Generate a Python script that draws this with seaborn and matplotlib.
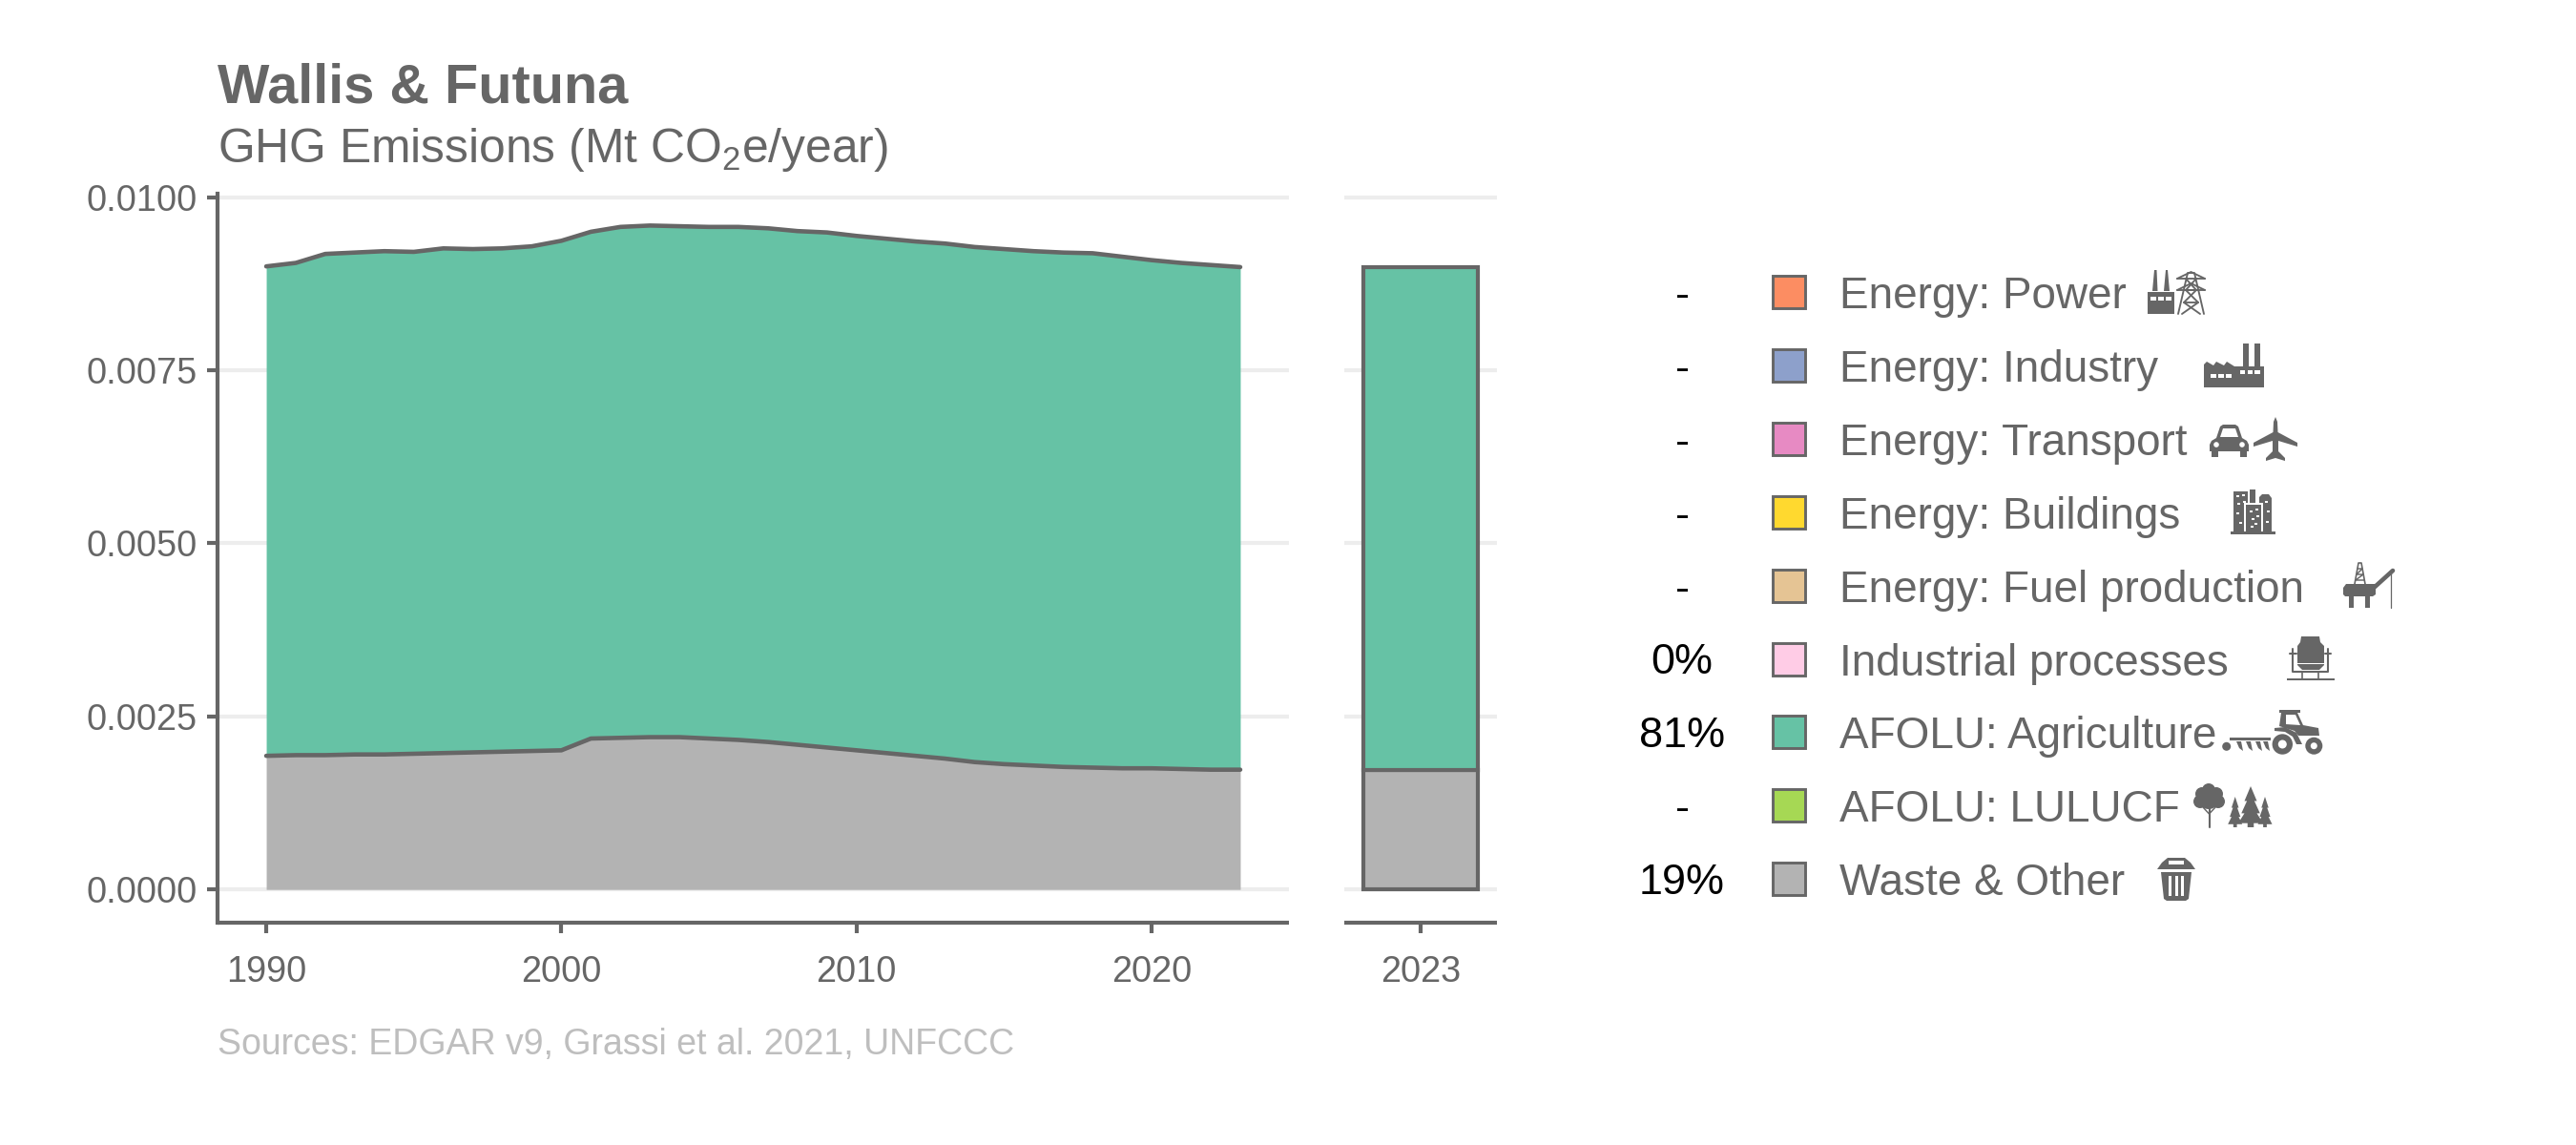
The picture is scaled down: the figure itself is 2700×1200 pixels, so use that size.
import numpy as np
import pandas as pd
import matplotlib
matplotlib.use('Agg')
import matplotlib.pyplot as plt
from matplotlib.patches import Polygon, Rectangle, Circle
import seaborn as sns

# values
years = list(range(1990, 2024))
total = [0.00900, 0.00905, 0.00918, 0.00920, 0.00922, 0.00921, 0.00926, 0.00925, 0.00926, 0.00929,
         0.00937, 0.00950, 0.00957, 0.00959, 0.00958, 0.00957, 0.00957, 0.00955, 0.00951, 0.00949,
         0.00944, 0.00940, 0.00936, 0.00933, 0.00928, 0.00925, 0.00922, 0.00920, 0.00919, 0.00914,
         0.00909, 0.00905, 0.00902, 0.00899]
waste = [0.00193, 0.00194, 0.00194, 0.00195, 0.00195, 0.00196, 0.00197, 0.00198, 0.00199, 0.00200,
         0.00201, 0.00218, 0.00219, 0.00220, 0.00220, 0.00218, 0.00216, 0.00213, 0.00209, 0.00205,
         0.00201, 0.00197, 0.00193, 0.00189, 0.00184, 0.00181, 0.00179, 0.00177, 0.00176, 0.00175,
         0.00175, 0.00174, 0.00173, 0.00173]
bar_year = ['2023']
bar_waste = [0.00173]
bar_agri = [0.00726]

sectors = ['Energy: Power', 'Energy: Industry', 'Energy: Transport', 'Energy: Buildings',
           'Energy: Fuel production', 'Industrial processes', 'AFOLU: Agriculture',
           'AFOLU: LULUCF', 'Waste & Other']
shares = ['-', '-', '-', '-', '-', '0%', '81%', '-', '19%']
sector_colors = ['#FC8D62', '#8DA0CB', '#E78AC3', '#FFD92F', '#E5C494', '#FFCCE6', '#66C2A5', '#A6D854', '#B3B3B3']
y_ticks = [0, 0.0025, 0.005, 0.0075, 0.01]
x_ticks = [1990, 2000, 2010, 2020]

GREY = '#666666'
GRID = '#EDEDED'
GREEN = sector_colors[6]
WASTE = sector_colors[8]
W, H = 2700, 1200

sns.set_theme(style='white')
plt.rcParams['font.family'] = ['Liberation Sans', 'DejaVu Sans']
plt.rcParams['mathtext.default'] = 'regular'

fig = plt.figure(figsize=(9, 4), dpi=300)


def box(left, right, top, bottom):
    return [left / W, 1 - bottom / H, (right - left) / W, (bottom - top) / H]


ax = fig.add_axes(box(228, 1351, 203, 967))
ax2 = fig.add_axes(box(1409, 1569, 203, 967))

# left panel
df = pd.DataFrame({'year': years, 'total': total, 'waste': waste})
ax.fill_between(df['year'], 0, df['waste'], color=WASTE, lw=0, zorder=2)
ax.fill_between(df['year'], df['waste'], df['total'], color=GREEN, lw=0, zorder=2)
sns.lineplot(data=df, x='year', y='total', color=GREY, lw=1.1, estimator=None, ax=ax, zorder=3)
sns.lineplot(data=df, x='year', y='waste', color=GREY, lw=1.1, estimator=None, ax=ax, zorder=3)
ax.set_xlim(1988.35, 2024.65)
ax.set_xticks(x_ticks)

# right panel
sns.barplot(x=bar_year, y=bar_waste, color=WASTE, saturation=1, width=0.9,
            edgecolor=GREY, linewidth=1, ax=ax2, zorder=2)
sns.barplot(x=bar_year, y=bar_agri, bottom=bar_waste, color=GREEN, saturation=1, width=0.9,
            edgecolor=GREY, linewidth=1, ax=ax2, zorder=2)
ax2.set_xlim(-0.6, 0.6)

for a in (ax, ax2):
    a.set_ylim(-0.00048, 0.01005)
    a.set_yticks(y_ticks)
    a.set_xlabel('')
    a.set_ylabel('')
    a.grid(axis='y', color=GRID, lw=1, zorder=0)
    a.grid(axis='x', visible=False)
    a.set_axisbelow(True)
    a.set_facecolor('none')
    for side in ('top', 'right'):
        a.spines[side].set_visible(False)
    a.spines['bottom'].set_color(GREY)
    a.spines['bottom'].set_linewidth(1)
    a.spines['bottom'].set_capstyle('butt')
    a.spines['left'].set_color(GREY)
    a.spines['left'].set_linewidth(1)
    a.tick_params(axis='x', length=2.7, width=1, color=GREY, labelcolor=GREY, labelsize=9.1, pad=5.5, bottom=True)
    a.tick_params(axis='y', length=2.7, width=1, color=GREY, labelcolor=GREY, labelsize=9.1, pad=2.4, left=True)

ax.set_yticklabels(['0.0000', '0.0025', '0.0050', '0.0075', '0.0100'])
ax2.spines['left'].set_visible(False)
ax2.tick_params(axis='y', left=False, labelleft=False)

# overlay in pixels for the titles, the key and its icons
ov = fig.add_axes([0, 0, 1, 1], facecolor='none')
ov.set_xlim(0, W)
ov.set_ylim(H, 0)
ov.axis('off')

ov.text(228, 108, 'Wallis & Futuna', fontsize=13.85, fontweight='bold', color=GREY, va='baseline')
ov.text(228, 170, 'GHG Emissions (Mt CO$_2$e/year)', fontsize=11.95, color=GREY, va='baseline')
ov.text(228, 1105, 'Sources: EDGAR v9, Grassi et al. 2021, UNFCCC', fontsize=9, color='#BEBEBE', va='baseline')

for i, (name, share, col) in enumerate(zip(sectors, shares, sector_colors)):
    yc = 306 + i * 76.9
    ov.add_patch(Rectangle((1858, yc - 17), 34, 34, fc=col, ec=GREY, lw=0.7))
    ov.text(1928, yc, name, fontsize=11, color=GREY, va='center_baseline')
    ov.text(1763, yc, share, fontsize=10.8, color='black', va='center_baseline', ha='center')


def poly(ox, oy, pts, fc=GREY):
    ov.add_patch(Polygon([(ox + x, oy + y) for x, y in pts], closed=True, fc=fc, ec='none'))


def rect(ox, oy, x0, y0, x1, y1, fc=GREY):
    ov.add_patch(Rectangle((ox + x0, oy + y0), x1 - x0, y1 - y0, fc=fc, ec='none'))


def circ(ox, oy, x, y, r, fc=GREY):
    ov.add_patch(Circle((ox + x, oy + y), r, fc=fc, ec='none'))


def seg(ox, oy, pts, lw=0.45):
    xs, ys = zip(*pts)
    ov.plot([ox + v for v in xs], [oy + v for v in ys], color=GREY, lw=lw, solid_capstyle='round')


def power_icon(ox, oy):
    rect(ox, oy, 0, 23, 28, 46)
    poly(ox, oy, [(5, 22), (7, 0), (9.5, 0), (10.5, 22)])
    poly(ox, oy, [(17, 22), (19, 0), (21, 0), (23, 22)])
    for x in (3, 11, 19):
        rect(ox, oy, x, 28, x + 5.5, 31.5, 'white')
    tx = ox + 31
    seg(tx, oy, [(1, 46), (11, 3), (18, 3), (28, 46)])
    seg(tx, oy, [(0, 9), (14.5, 2), (29, 9)])
    seg(tx, oy, [(0, 21), (14.5, 14), (29, 21)])
    seg(tx, oy, [(0, 9), (29, 9)])
    seg(tx, oy, [(0, 21), (29, 21)])
    seg(tx, oy, [(9, 9), (20, 21), (9, 21), (22, 34), (5, 46)])
    seg(tx, oy, [(20, 9), (9, 21), (20, 21), (7, 34), (24, 46)])
    seg(tx, oy, [(7, 34), (22, 34)])


def industry_icon(ox, oy):
    poly(ox, oy, [(0, 46), (0, 22), (3, 19), (10, 23), (13, 19), (21, 23), (24, 19), (32, 24), (63, 24), (63, 46)])
    rect(ox, oy, 41, 0, 47, 24)
    rect(ox, oy, 53, 0, 59, 24)
    for x in (6.7, 15, 22.7):
        rect(ox, oy, x, 32.3, x + 6, 35.7, 'white')
    for x in (37.7, 45.7, 53.3):
        rect(ox, oy, x, 28.3, x + 5.7, 32, 'white')


def transport_icon(ox, oy):
    poly(ox, oy, [(7, 14), (11, 2), (14, 0), (27, 0), (30, 2), (34, 14), (39, 17), (41, 21), (41, 28), (0, 28), (0, 21), (2, 17)])
    poly(ox, oy, [(11, 13), (14, 4), (27, 4), (30, 13)], 'white')
    circ(ox, oy, 7, 21, 2.8, 'white')
    circ(ox, oy, 34, 21, 2.8, 'white')
    rect(ox, oy, 2, 28, 9, 34)
    rect(ox, oy, 32, 28, 39, 34)
    poly(ox + 46, oy - 8, [(21, 5), (23, 0), (25, 5), (25.5, 16), (46, 27), (46, 31), (26, 25), (26, 36), (33, 43),
                           (33, 46), (23, 43), (13, 46), (13, 43), (20, 36), (20, 25), (0, 31), (0, 27), (20.5, 16)])


def buildings_icon(ox, oy):
    rect(ox, oy, 0, 44, 47, 47)
    rect(ox, oy, 3, 2, 18, 44)
    rect(ox, oy, 20, 0, 26, 15)
    poly(ox, oy, [(30, 8), (33, 5), (40, 5), (43, 9), (43, 44), (30, 44)])
    rect(ox, oy, 14, 14, 34, 44, 'white')
    rect(ox, oy, 16, 16, 32, 44)
    for x, y in [(6, 6), (12, 5), (7, 14), (13, 12), (6, 24), (9, 34), (20, 22), (26, 20), (22, 30), (27, 27), (21, 38), (25, 35), (36, 12), (38, 22), (37, 33)]:
        rect(ox, oy, x, y, x + 2.5, y + 1.5, 'white')


def platform_icon(ox, oy):
    poly(ox, oy, [(0, 26), (3, 22), (34, 22), (34, 33), (31, 35), (2, 35), (0, 33)])
    rect(ox, oy, 6, 35, 10.5, 47)
    rect(ox, oy, 23, 35, 28, 47)
    seg(ox, oy, [(12, 22), (16, 0), (19, 0), (23, 22)], 0.4)
    seg(ox, oy, [(15, 6), (20, 6), (14, 12), (21, 12), (13, 18), (22, 18)], 0.35)
    seg(ox, oy, [(31, 27), (52, 8)], 1.1)
    seg(ox, oy, [(50, 9), (50, 47)], 0.3)


def mixer_icon(ox, oy):
    poly(ox, oy, [(15, 0), (34, 0), (35, 6), (39, 10), (39, 30), (34, 35), (16, 35), (11, 30), (11, 10), (14, 6)])
    rect(ox, oy, 11, 28, 39, 29, 'white')
    seg(ox, oy, [(6, 13), (6, 37), (43, 37), (43, 13)], 0.5)
    seg(ox, oy, [(3, 18), (10, 18)], 0.5)
    seg(ox, oy, [(40, 18), (46, 18)], 0.5)
    seg(ox, oy, [(16, 37), (16, 44)], 0.4)
    seg(ox, oy, [(33, 37), (33, 44)], 0.4)
    rect(ox, oy, 0, 44, 50, 46)


def tractor_icon(ox, oy):
    rect(ox, oy, 60, 0, 82, 3)
    poly(ox, oy, [(62, 3), (79, 3), (85, 16), (101, 19), (102, 27), (80, 27), (76, 22), (60, 17)])
    poly(ox, oy, [(67, 5), (77, 5), (82, 16), (67, 15)], 'white')
    poly(ox, oy, [(55, 19), (66, 18), (78, 24), (84, 36), (78, 36), (74, 28), (66, 23), (55, 22)])
    for x, y, r, h in [(63.3, 36, 10.7, 4.5), (96.3, 37.7, 9, 3.5)]:
        circ(ox, oy, x, y, r + 1.2, 'white')
        circ(ox, oy, x, y, r)
        circ(ox, oy, x, y, h, 'white')
    rect(ox, oy, 8, 29, 51, 31.5)
    circ(ox, oy, 4.7, 38.3, 4.5)
    for x in (15, 25, 35, 43):
        poly(ox, oy, [(x, 33), (x + 5, 33), (x + 7, 43), (x + 3, 40)])


def tree_icon(ox, oy):
    for x, y, r in [(16, 7, 7), (9, 11, 7), (24, 11, 7), (7, 19, 7), (26, 19, 7), (16, 16, 11)]:
        circ(ox, oy, x, y, r)
    seg(ox, oy, [(16.5, 22), (16.5, 46)], 0.5)
    seg(ox, oy, [(10, 25), (16.5, 32), (23, 25)], 0.35)
    for cx, top, hw in [(8.7, 11, 7.5), (40, 11, 7.5), (25, 0, 13)]:
        h = 43 - top
        tx = ox + 35
        ty = oy + 3
        poly(tx, ty, [(cx, top), (cx + hw * 0.5, top + h * 0.36), (cx + hw * 0.3, top + h * 0.36), (cx + hw * 0.75, top + h * 0.66),
                      (cx + hw * 0.5, top + h * 0.66), (cx + hw, top + h * 0.9), (cx + hw * 0.25, top + h * 0.9), (cx + hw * 0.25, top + h),
                      (cx - hw * 0.25, top + h), (cx - hw * 0.25, top + h * 0.9), (cx - hw, top + h * 0.9), (cx - hw * 0.5, top + h * 0.66),
                      (cx - hw * 0.75, top + h * 0.66), (cx - hw * 0.3, top + h * 0.36), (cx - hw * 0.5, top + h * 0.36)])


def trash_icon(ox, oy):
    poly(ox, oy, [(0, 13), (5, 6), (11, 1), (29, 1), (35, 6), (40, 13)])
    rect(ox, oy, 12, 4, 28, 8, 'white')
    poly(ox, oy, [(4, 16), (36, 16), (33, 44), (30, 46), (10, 46), (7, 44)])
    for x in (12, 18.5, 25):
        rect(ox, oy, x, 20, x + 3, 41, 'white')


power_icon(2251, 283)
industry_icon(2310, 360)
transport_icon(2316, 445)
buildings_icon(2338, 513)
platform_icon(2456, 590)
mixer_icon(2397, 667)
tractor_icon(2329, 744)
tree_icon(2299, 821)
trash_icon(2261, 898)

fig.savefig('out.png', dpi=300, facecolor='white')
